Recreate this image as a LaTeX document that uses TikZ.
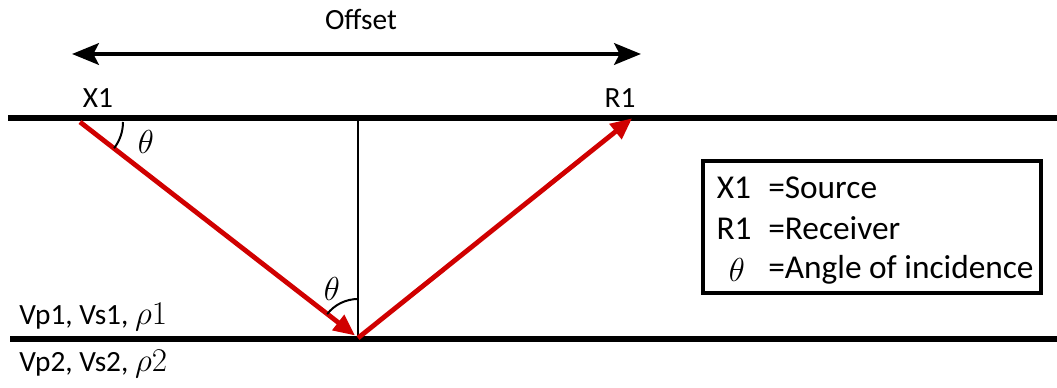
\documentclass[tikz,border=0pt]{standalone}
\usepackage{fontspec}
\setmainfont{Carlito}
\usetikzlibrary{arrows.meta}
\definecolor{rayred}{RGB}{208,0,0}
\begin{document}
\begin{tikzpicture}[x=0.75pt,y=-0.75pt,
  lbl/.style={font=\fontsize{22}{26}\selectfont, inner sep=0pt},
  keylbl/.style={font=\fontsize{25}{30}\selectfont, inner sep=0pt},
  greek/.style={font=\fontsize{27}{32}\selectfont, inner sep=0pt},
  thick line/.style={line width=3.8pt},
  ray/.style={line width=3.6pt, draw=rayred, -{Triangle[length=16pt,width=14pt]}, shorten >=-2pt},
  anglearc/.style={line width=1.5pt}]
\useasboundingbox (0,0) rectangle (1057,388);
% coordinates
\coordinate (topL) at (8,118);
\coordinate (topR) at (1057,118);
\coordinate (botL) at (10,339);
\coordinate (botR) at (1057,339);
\coordinate (src) at (80,122);
\coordinate (refl) at (358,338);
\coordinate (rcv) at (630,120);
\coordinate (vtop) at (358,118);
\coordinate (offL) at (72,54);
\coordinate (offR) at (641,54);
% layers
\draw[thick line] (topL) -- (topR);
\draw[thick line] (botL) -- (botR);
\draw[line width=1.6pt] (vtop) -- (refl);
% offset arrow
\draw[line width=3.6pt, {Stealth[length=20pt,width=16pt,inset=4pt]}-{Stealth[length=20pt,width=16pt,inset=4pt]}] (offL) -- (offR);
\node[lbl] (offset) at (361,19) {Offset};
\node[lbl] (x1) at (98,98) {X1};
\node[lbl] (r1) at (620,98) {R1};
% rays
\draw[ray, shorten >=0pt] (src) -- (355,335.5);
\draw[ray] (refl) -- (rcv);
% angle arcs
\draw[anglearc] ([shift={(0:43)}]src) arc[start angle=0, end angle=37.6, radius=43];
\draw[anglearc] ([shift={(-90:39)}]refl) arc[start angle=-90, end angle=-142.2, radius=39];
\node[greek] (th1) at (146,142) {$\theta$};
\node[greek] (th2) at (332,289) {$\theta$};
% layer labels
\node[lbl, anchor=west] (l1) at (19,317) {Vp1, Vs1, {\fontsize{26}{30}\selectfont$\rho1$}};
\node[lbl, anchor=west] (l2) at (19,364) {Vp2, Vs2, {\fontsize{26}{30}\selectfont$\rho2$}};
% legend
\node[draw, line width=3pt, minimum width=254pt, minimum height=99pt, inner sep=0pt] (legend) at (872,227) {};
\node[keylbl] (k1) at (734,188) {X1};
\node[keylbl] (k2) at (734,229) {R1};
\node[greek] (k3) at (737,270) {$\theta$};
\node[keylbl, anchor=base west] (v1) at (768,188 |- k1.base) {=Source};
\node[keylbl, anchor=base west] (v2) at (768,229 |- k2.base) {=Receiver};
\node[keylbl, anchor=west] (v3) at (768,270) {=Angle of incidence};
\end{tikzpicture}
\end{document}
